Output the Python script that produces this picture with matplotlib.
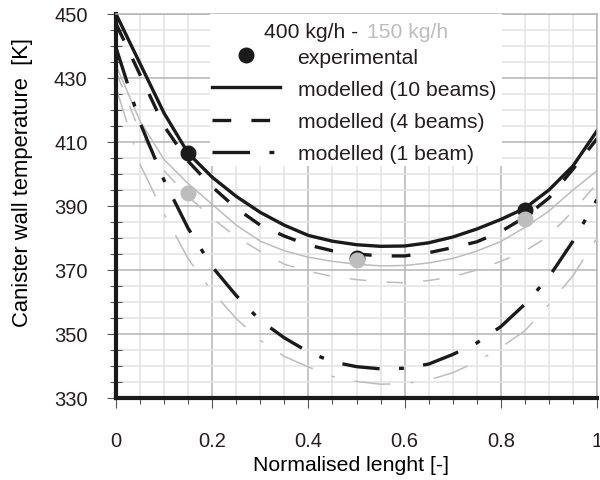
import matplotlib
matplotlib.use('Agg')
import matplotlib.pyplot as plt
from matplotlib.lines import Line2D
from matplotlib.patches import Rectangle
from matplotlib.ticker import MultipleLocator

plt.rcParams['font.family'] = ['Liberation Sans', 'DejaVu Sans']
plt.rcParams['font.size'] = 14.5
plt.rcParams['lines.scale_dashes'] = False
plt.rcParams['text.color'] = '#231f20'
plt.rcParams['xtick.color'] = '#555555'
plt.rcParams['ytick.color'] = '#555555'
plt.rcParams['xtick.labelcolor'] = '#231f20'
plt.rcParams['ytick.labelcolor'] = '#231f20'

# posicao normalizada ao longo do canister
x_mod = [0.0, 0.05, 0.1, 0.15, 0.2, 0.25, 0.3, 0.35, 0.4, 0.45, 0.5,
         0.55, 0.6, 0.65, 0.7, 0.75, 0.8, 0.85, 0.9, 0.95, 1.0]

# 400 kg/h (preto)
t10_400 = [450, 434.5, 419, 406.5, 399, 393, 388, 384, 380.8, 379, 377.9,
           377.4, 377.5, 378.5, 380.3, 382.8, 385.8, 389.3, 395, 402.5, 413.5]
t4_400 = [447, 431, 415, 404, 396, 389.3, 384, 380.6, 377.8, 376, 375,
          374.4, 374.4, 375.4, 377, 378.8, 382, 386.5, 392.5, 401.5, 411]
t1_400 = [439.5, 416, 398, 383, 371, 362, 354.2, 348.8, 344.4, 341.3, 339.8,
          339.1, 339.3, 340.6, 343.6, 347.2, 352.3, 359.3, 367.8, 379, 392]

# 150 kg/h (cinza)
t10_150 = [434, 416.5, 404.5, 397, 390.5, 384, 379, 376, 374, 372.7, 371.8,
           371.3, 371.4, 372.2, 373.6, 375.9, 378.9, 383.3, 388.4, 395, 401]
t4_150 = [432, 413, 401, 393, 386.2, 380.3, 375.8, 371.8, 369.6, 368, 367,
          366.3, 366, 366.7, 367.9, 370, 372.7, 375.9, 380.6, 388.5, 397]
t1_150 = [427, 403, 387.5, 373.5, 363.3, 354.8, 348, 343, 339.7, 336.7, 335.2,
          334.3, 334.5, 335.6, 337.9, 341.3, 345.8, 351, 359.2, 368.2, 380]

# pontos experimentais
x_exp = [0.15, 0.5, 0.85]
exp_400 = [406.6, 373.9, 388.6]
exp_150 = [394, 373.1, 386]

y_ticks = [330, 350, 370, 390, 410, 430, 450]
x_ticks = [0, 0.2, 0.4, 0.6, 0.8, 1.0]
x_ticklabels = ['0', '0.2', '0.4', '0.6', '0.8', '1']

preto = '#1a1a1a'
cinza = '#bdbdbd'
tracejado = (0, (13.5, 14.5))
traco_ponto = (0, (27, 14, 3.5, 14))
tracejado_c = (0, (12, 14.5))
traco_ponto_c = (0, (26, 14.5, 2.5, 14.5))

fig = plt.figure(figsize=(6, 4.81), dpi=100)
ax = fig.add_axes([116/600, 1-399/481, 481/600, 384/481])

ax.plot(x_mod, t10_150, color=cinza, lw=1.1)
ax.plot(x_mod, t4_150, color=cinza, lw=1.1, linestyle=tracejado_c)
ax.plot(x_mod, t1_150, color=cinza, lw=1.1, linestyle=traco_ponto_c)
ax.plot(x_mod, t10_400, color=preto, lw=2.4)
ax.plot(x_mod, t4_400, color=preto, lw=2.4, linestyle=tracejado)
ax.plot(x_mod, t1_400, color=preto, lw=2.4, linestyle=traco_ponto)
ax.plot(x_exp, exp_400, 'o', color=preto, ms=10.5, zorder=3)
ax.plot(x_exp, exp_150, 'o', color=cinza, ms=10.5, zorder=3.1)

ax.set_xlim(0, 1)
ax.set_ylim(330, 450)
ax.set_xticks(x_ticks)
ax.set_xticklabels(x_ticklabels)
ax.xaxis.set_minor_locator(MultipleLocator(0.05))
ax.set_yticks(y_ticks)
ax.yaxis.set_minor_locator(MultipleLocator(5))

ax.grid(which='minor', color='#e2e2e2', lw=1.1)
ax.grid(which='major', color='#b5b5b5', lw=1.1)

ax.tick_params(axis='y', which='major', direction='out', length=6.5, width=0.8, pad=14)
ax.tick_params(axis='y', which='minor', direction='inout', length=8, width=0.8)
ax.tick_params(axis='x', which='major', direction='out', length=7, width=0.8, pad=17)
ax.tick_params(axis='x', which='minor', direction='out', length=4, width=0.8)

for lado in ['left', 'bottom']:
    ax.spines[lado].set_color(preto)
    ax.spines[lado].set_linewidth(3)
for lado in ['top', 'right']:
    ax.spines[lado].set_color('#b5b5b5')
    ax.spines[lado].set_linewidth(1.1)

ax.set_xlabel('Normalised lenght [-]', fontsize=15.3)
ax.set_ylabel('Canister wall temperature  [K]', fontsize=15.8)
ax.xaxis.set_label_coords(0.488, -0.172)
ax.yaxis.set_label_coords(-0.195, 0.565)
ax.xaxis.label.set_va('center')
ax.yaxis.label.set_va('center')

# fundo branco da legenda
ax.add_patch(Rectangle((0.195, 0.604), 0.6075, 0.396, transform=ax.transAxes,
                       facecolor='white', edgecolor='none', zorder=4))

handles = [
    Line2D([], [], marker='o', color=preto, ls='none', ms=10.5),
    Line2D([], [], color=preto, lw=2.4),
    Line2D([], [], color=preto, lw=2.4, linestyle=tracejado),
    Line2D([], [], color=preto, lw=2.4, linestyle=traco_ponto),
]
labels = ['experimental', 'modelled (10 beams)', 'modelled (4 beams)', 'modelled (1 beam)']
ax.legend(handles, labels, loc='upper left', bbox_to_anchor=(0.191, 0.923),
          frameon=False, handlelength=3.2, handletextpad=0.85, labelspacing=0.62,
          borderpad=0.2, borderaxespad=0, fontsize=15.2)

ax.text(0.504, 0.939, '400 kg/h -', transform=ax.transAxes, ha='right',
        va='baseline', fontsize=15.2, zorder=6)
ax.text(0.521, 0.939, '150 kg/h', transform=ax.transAxes, ha='left',
        va='baseline', fontsize=15.2, color=cinza, zorder=6)

fig.savefig('out.png', dpi=100)
